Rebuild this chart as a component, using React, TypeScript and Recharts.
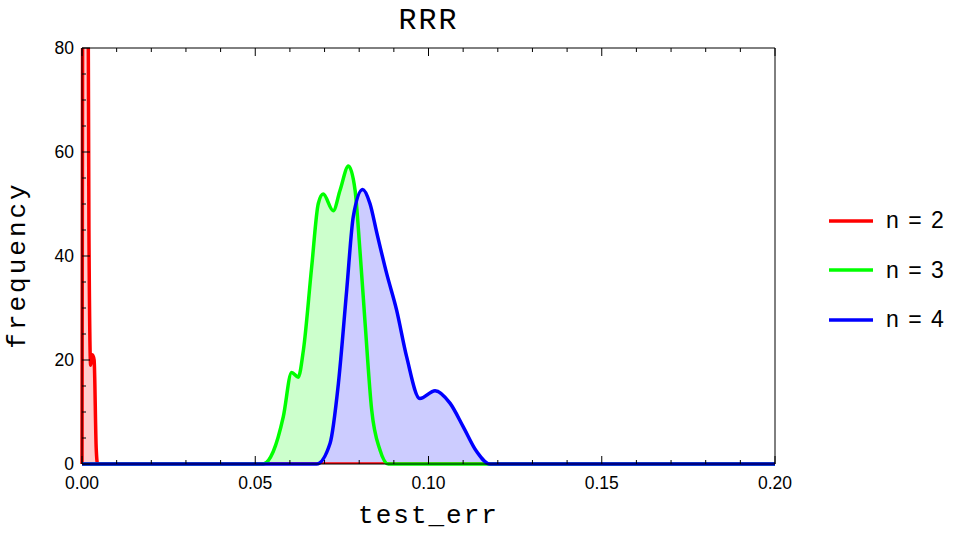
import React from 'react';
import { ComposedChart, Area, Line, XAxis, YAxis, Legend } from 'recharts';

// tick positions (major labels every 0.05 / 20)
const xTicks = [0, 0.01, 0.02, 0.03, 0.04, 0.05, 0.06, 0.07, 0.08, 0.09, 0.1, 0.11, 0.12, 0.13, 0.14, 0.15, 0.16, 0.17, 0.18, 0.19, 0.2];
const yTicks = [0, 5, 10, 15, 20, 25, 30, 35, 40, 45, 50, 55, 60, 65, 70, 75, 80];

const seriesNames = ['n = 2', 'n = 3', 'n = 4'];

// [test_err, frequency]
const n2Points: [number, number][] = [
  [0, 0], [0.0003, 140], [0.0009, 260], [0.0015, 150], [0.002, 45], [0.0025, 19],
  [0.003, 21], [0.0035, 20], [0.0041, 3], [0.0045, 0], [0.2, 0],
];
const n3Points: [number, number][] = [
  [0, 0], [0.0523, 0], [0.0552, 2.4], [0.0581, 9.1], [0.0605, 17.6], [0.0624, 16.7],
  [0.0639, 21.9], [0.0663, 38], [0.0682, 50.1], [0.0696, 51.9], [0.0725, 48.7],
  [0.0745, 52.7], [0.0769, 57.3], [0.0788, 52.7], [0.0802, 41.2], [0.0817, 27.1],
  [0.0836, 10.4], [0.086, 2.7], [0.0884, 0], [0.2, 0],
];
const n4Points: [number, number][] = [
  [0, 0], [0.0677, 0], [0.0716, 4], [0.074, 15.5], [0.0764, 33.5], [0.0783, 47.6],
  [0.081, 52.8], [0.0831, 50.1], [0.0851, 44.4], [0.0879, 36.7], [0.0908, 29.6],
  [0.0937, 20.6], [0.0975, 12.6], [0.1019, 14.1], [0.1062, 11.7], [0.11, 7.2],
  [0.1139, 2.4], [0.1177, 0], [0.2, 0],
];

// n = 2 runs off the top of the frame, so it sits on a clipping axis
const series = [
  { key: 'n2', name: seriesNames[0], axis: 'clip', stroke: '#ff0000', fill: '#ffcccc' },
  { key: 'n3', name: seriesNames[1], axis: 'left', stroke: '#00ff00', fill: '#ccffcc' },
  { key: 'n4', name: seriesNames[2], axis: 'left', stroke: '#0000ff', fill: '#ccccff' },
];

// merge the three curves into one table keyed by x
const allX = Array.from(new Set([...n2Points, ...n3Points, ...n4Points].map(p => p[0]))).sort((a, b) => a - b);
const valueAt = (pts: [number, number][], x: number) => {
  const hit = pts.find(p => p[0] === x);
  return hit ? hit[1] : null;
};
const chartData = allX.map(x => ({
  x,
  n2: valueAt(n2Points, x),
  n3: valueAt(n3Points, x),
  n4: valueAt(n4Points, x),
}));

const SANS = '"Liberation Sans", Arial, Helvetica, sans-serif';
const MONO = '"Liberation Mono", "Courier New", monospace';

const isMajorX = (v: number) => Math.abs(v * 20 - Math.round(v * 20)) < 1e-6;
const isMajorY = (v: number) => v % 20 === 0;

const BottomTick = ({ x, y, payload }: any) => {
  const major = isMajorX(payload.value);
  return (
    <g>
      <line x1={x} x2={x} y1={y} y2={y - (major ? 8 : 4)} stroke="#000" />
      {major && (
        <text x={x} y={y + 25} textAnchor="middle" fontSize={17.5} fontFamily={SANS} fill="#000">
          {payload.value.toFixed(2)}
        </text>
      )}
    </g>
  );
};

const TopTick = ({ x, y, payload }: any) => {
  const major = isMajorX(payload.value);
  return <line x1={x} x2={x} y1={y} y2={y + (major ? 8 : 4)} stroke="#000" />;
};

const LeftTick = ({ x, y, payload }: any) => {
  const major = isMajorY(payload.value);
  return (
    <g>
      <line x1={x} x2={x + (major ? 8 : 4)} y1={y} y2={y} stroke="#000" />
      {major && (
        <text x={x - 8} y={y + 6} textAnchor="end" fontSize={17.5} fontFamily={SANS} fill="#000">
          {payload.value}
        </text>
      )}
    </g>
  );
};

const RightTick = ({ x, y, payload }: any) => {
  const major = isMajorY(payload.value);
  return <line x1={x} x2={x - (major ? 8 : 4)} y1={y} y2={y} stroke="#000" />;
};

const renderLegend = () => (
  <div style={{ width: 130, fontFamily: SANS, fontSize: 23, whiteSpace: 'nowrap', color: '#000' }}>
    {series.map(s => (
      <div key={s.key} style={{ display: 'flex', alignItems: 'center', height: 49.5 }}>
        <svg width={44} height={4} style={{ display: 'block', flexShrink: 0 }}>
          <line x1={0} x2={44} y1={2} y2={2} stroke={s.stroke} strokeWidth={3.5} />
        </svg>
        <span style={{ marginLeft: 13, letterSpacing: 1.5 }}>{s.name}</span>
      </div>
    ))}
  </div>
);

export default function App() {
  return (
    <div style={{ position: 'absolute', left: 0, top: 0, width: 954, height: 535, background: '#fff' }}>
      <ComposedChart
        width={954}
        height={535}
        data={chartData}
        margin={{ top: 47, right: 178, bottom: 41, left: 42 }}
      >
        <XAxis
          xAxisId="bottom"
          dataKey="x"
          type="number"
          domain={[0, 0.2]}
          ticks={xTicks}
          interval={0}
          height={30}
          tickSize={0}
          tickMargin={0}
          tickLine={false}
          tick={BottomTick}
          axisLine={{ stroke: '#000' }}
          label={{
            content: (p: any) => (
              <text
                x={p.viewBox.x + p.viewBox.width / 2}
                y={p.viewBox.y + 59}
                textAnchor="middle"
                fontSize={26}
                letterSpacing={2}
                fontFamily={MONO}
                fill="#000"
              >
                test_err
              </text>
            ),
          }}
        />
        <XAxis
          xAxisId="top"
          orientation="top"
          dataKey="x"
          type="number"
          domain={[0, 0.2]}
          ticks={xTicks}
          interval={0}
          height={1}
          tickSize={0}
          tickMargin={0}
          tickLine={false}
          tick={TopTick}
          axisLine={{ stroke: '#000' }}
          label={{
            content: (p: any) => (
              <text
                x={p.viewBox.x + p.viewBox.width / 2}
                y={p.viewBox.y - 18}
                textAnchor="middle"
                fontSize={30}
                letterSpacing={2}
                fontFamily={MONO}
                fill="#000"
              >
                RRR
              </text>
            ),
          }}
        />
        <YAxis
          yAxisId="left"
          type="number"
          domain={[0, 80]}
          ticks={yTicks}
          interval={0}
          width={40}
          tickSize={0}
          tickMargin={0}
          tickLine={false}
          tick={LeftTick}
          axisLine={{ stroke: '#000' }}
          label={{
            content: (p: any) => {
              const cx = 25;
              const cy = p.viewBox.y + p.viewBox.height / 2 + 9;
              return (
                <text
                  x={cx}
                  y={cy}
                  transform={`rotate(-90, ${cx}, ${cy})`}
                  textAnchor="middle"
                  fontSize={26}
                  letterSpacing={3}
                  fontFamily={MONO}
                  fill="#000"
                >
                  frequency
                </text>
              );
            },
          }}
        />
        <YAxis yAxisId="clip" type="number" domain={[0, 80]} allowDataOverflow hide width={0} />
        <YAxis
          yAxisId="right"
          orientation="right"
          type="number"
          domain={[0, 80]}
          ticks={yTicks}
          interval={0}
          width={1}
          tickSize={0}
          tickMargin={0}
          tickLine={false}
          tick={RightTick}
          axisLine={{ stroke: '#000' }}
        />
        <Legend
          content={renderLegend}
          wrapperStyle={{ position: 'absolute', left: 829, top: 196, width: 0, height: 0, overflow: 'visible' }}
        />
        {series.map(s => (
          <Area
            key={`fill-${s.key}`}
            xAxisId="bottom"
            yAxisId={s.axis}
            type="monotone"
            dataKey={s.key}
            name={s.name}
            stroke="none"
            fill={s.fill}
            fillOpacity={1}
            connectNulls
            legendType="none"
            isAnimationActive={false}
          />
        ))}
        {series.map(s => (
          <Line
            key={`line-${s.key}`}
            xAxisId="bottom"
            yAxisId={s.axis}
            type="monotone"
            dataKey={s.key}
            name={s.name}
            stroke={s.stroke}
            strokeWidth={3.5}
            dot={false}
            activeDot={false}
            connectNulls
            isAnimationActive={false}
          />
        ))}
      </ComposedChart>
    </div>
  );
}
